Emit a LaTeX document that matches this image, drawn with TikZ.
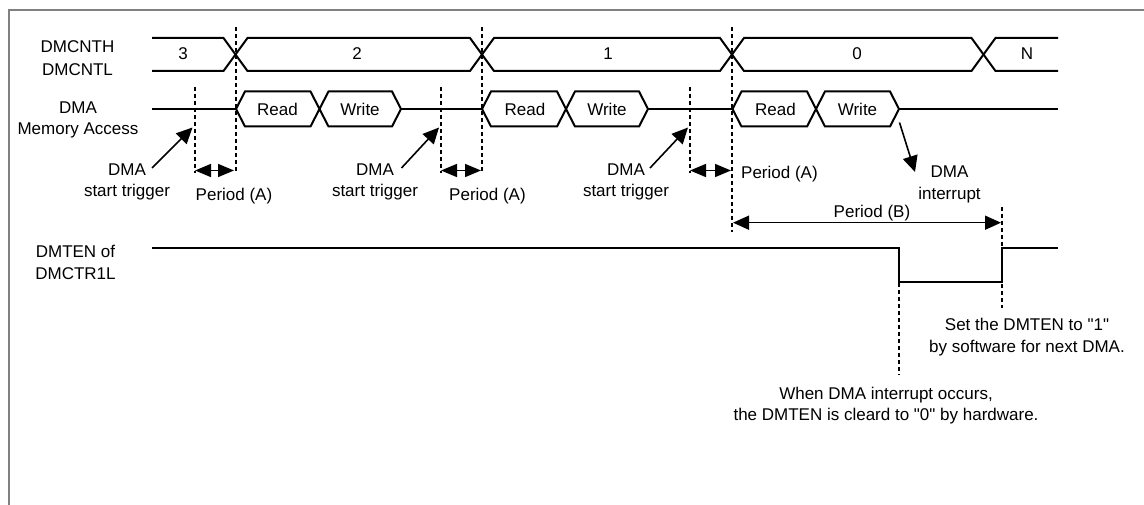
\documentclass[tikz,border=0pt]{standalone}
\usepackage{fontspec}
\setmainfont{Liberation Sans}[Ligatures=TeXReset]
\usetikzlibrary{arrows.meta}
\begin{document}
\begin{tikzpicture}[x=1pt,y=-1pt,
  sig/.style={line width=2pt, line join=miter},
  guide/.style={line width=2pt, dash pattern=on 4pt off 3pt},
  lbl/.style={font=\fontsize{17}{21.7}\selectfont, inner sep=0pt, align=center, anchor=north},
  val/.style={font=\fontsize{17}{21.7}\selectfont, inner sep=0pt},
  ptr/.style={line width=1.6pt, -{Triangle[length=16pt,width=15pt]}},
  span/.style={line width=1.6pt, {Triangle[length=16pt,width=13pt]}-{Triangle[length=16pt,width=13pt]}},
  frame/.style={line width=2pt, draw=black!50}
]
\useasboundingbox (0,0) rectangle (1144,505);
\draw[frame] (9,505) -- (9,10.5) -- (1144,10.5);

% signal names
\node[lbl, font=\fontsize{17}{23.3}\selectfont] (lcnt) at (77.5,40) {DMCNTH\\DMCNTL};
\node[lbl, font=\fontsize{17}{20.6}\selectfont] (lmem) at (78,101.7) {DMA\\Memory Access};
\node[lbl] (lten) at (75.5,245) {DMTEN of\\DMCTR1L};

% DMCNT bus
\draw[sig] (152,38) -- (223.5,38) -- (247.5,71) -- (470,71) -- (494,38) -- (720,38) -- (744,71) -- (971.5,71) -- (995.5,38) -- (1058,38);
\draw[sig] (152,71) -- (223.5,71) -- (247.5,38) -- (470,38) -- (494,71) -- (720,71) -- (744,38) -- (971.5,38) -- (995.5,71) -- (1058,71);
\node[val] (v3) at (183,54) {3};
\node[val] (v2) at (357,54) {2};
\node[val] (v1) at (608,54) {1};
\node[val] (v0) at (857,54) {0};
\node[val] (vN) at (1027,54) {N};

% DMA memory access
\draw[sig] (152,109) -- (236,109);
\draw[sig] (401,109) -- (482,109);
\draw[sig] (648,109) -- (732.5,109);
\draw[sig] (899,109) -- (1058,109);
\foreach \l/\m/\r in {236/319.5/401, 482/566/648, 732.5/816/899}{
  \draw[sig] (\l,109) -- (\l+9,91.5) -- (\m-9,91.5) -- (\m+9,126.5) -- (\r-9,126.5) -- (\r,109)
    -- (\r-9,91.5) -- (\m+9,91.5) -- (\m-9,126.5) -- (\l+9,126.5) -- cycle;
}
\node[val] (rd1) at (277.5,109) {Read};
\node[val] (wr1) at (360,109) {Write};
\node[val] (rd2) at (525,109) {Read};
\node[val] (wr2) at (607,109) {Write};
\node[val] (rd3) at (775.5,109) {Read};
\node[val] (wr3) at (857.5,109) {Write};

% DMTEN signal
\draw[sig] (152,248) -- (899,248) -- (899,282) -- (1002,282) -- (1002,248) -- (1058,248);

% guide lines
\coordinate (d1t) at (235.5,27); \coordinate (d1b) at (235.5,173);
\coordinate (d2t) at (482,27);   \coordinate (d2b) at (482,173);
\coordinate (d3t) at (732,27);   \coordinate (d3b) at (732,232);
\coordinate (t1t) at (195,87);   \coordinate (t1b) at (195,173);
\coordinate (t2t) at (441,87);   \coordinate (t2b) at (441,173);
\coordinate (t3t) at (690,87);   \coordinate (t3b) at (690,173);
\coordinate (ft) at (899,248);   \coordinate (fb) at (899,375);
\coordinate (rt) at (1002,207);  \coordinate (rb) at (1002,308);
\foreach \a/\b in {d1t/d1b, d2t/d2b, d3t/d3b, t1t/t1b, t2t/t2b, t3t/t3b, ft/fb, rt/rb}
  \draw[guide] (\a) -- (\b);

% start trigger labels and arrows
\node[lbl] (trg1) at (127,163.3) {DMA\\start trigger};
\node[lbl] (trg2) at (375,163.3) {DMA\\start trigger};
\node[lbl] (trg3) at (626,163.3) {DMA\\start trigger};
\coordinate (a1s) at (152,168); \coordinate (a1e) at (192.5,127.5);
\coordinate (a2s) at (401.5,168); \coordinate (a2e) at (439,127.5);
\coordinate (a3s) at (650,168); \coordinate (a3e) at (688,127.5);
\draw[ptr] (a1s) -- (a1e);
\draw[ptr] (a2s) -- (a2e);
\draw[ptr] (a3s) -- (a3e);

% period (A)
\coordinate (p1l) at (195,170.5); \coordinate (p1r) at (234,170.5);
\coordinate (p2l) at (441,170.5); \coordinate (p2r) at (481,170.5);
\coordinate (p3l) at (690,170.5); \coordinate (p3r) at (731,170.5);
\draw[span] (p1l) -- (p1r);
\draw[span] (p2l) -- (p2r);
\draw[span] (p3l) -- (p3r);
\node[lbl] (pa1) at (234,188) {Period (A)};
\node[lbl] (pa2) at (487.5,188) {Period (A)};
\node[lbl, anchor=north west] (pa3) at (741,165.7) {Period (A)};

% DMA interrupt
\coordinate (is) at (899.5,122.5); \coordinate (ie) at (915,172);
\draw[ptr] (is) -- (ie);
\node[lbl] (dint) at (949.5,165.7) {DMA\\interrupt};

% period (B)
\coordinate (pbl) at (733,222.7); \coordinate (pbr) at (1001,222.7);
\draw[line width=1.6pt, {Triangle[length=16pt,width=14pt]}-{Triangle[length=16pt,width=14pt]}] (pbl) -- (pbr);
\node[lbl] (pb) at (872,204.5) {Period (B)};

% notes
\node[lbl] (nset) at (1027,318.3) {Set the DMTEN to "1"\\by software for next DMA.};
\node[lbl] (nclr) at (886,386.7) {When DMA interrupt occurs,\\the DMTEN is cleard to "0" by hardware.};
\end{tikzpicture}
\end{document}
